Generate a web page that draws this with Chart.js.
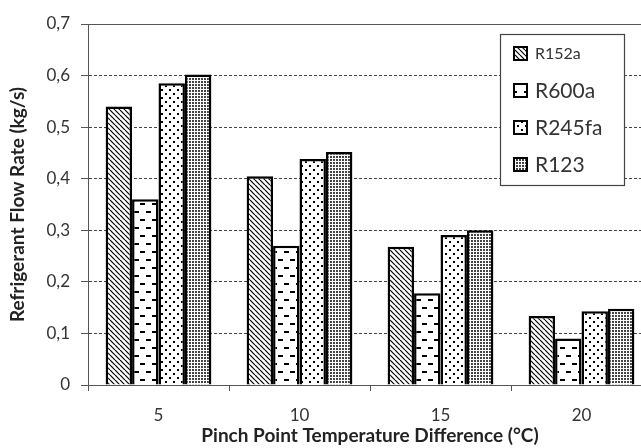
<!DOCTYPE html>
<html>
<head>
<meta charset="utf-8">
<script src="https://cdn.jsdelivr.net/npm/chart.js@4"></script>
<style>
  html, body { margin:0; padding:0; background:#fff; overflow:hidden; }
  #wrap { width:660px; height:448px; }
</style>
</head>
<body>
<div id="wrap"><canvas id="ch" width="660" height="448"></canvas></div>
<script>
// data
const PINCH = ['5', '10', '15', '20'];
const R152A = [0.54, 0.405, 0.268, 0.134];
const R600A = [0.36, 0.27, 0.178, 0.09];
const R245FA = [0.585, 0.438, 0.291, 0.143];
const R123 = [0.602, 0.452, 0.30, 0.148];
const Y_TICKS = [0, 0.1, 0.2, 0.3, 0.4, 0.5, 0.6, 0.7];

const FONT = 'Lato, "Open Sans", sans-serif';

// small tiles for the black & white fills
function tile(w, h, draw) {
  const c = document.createElement('canvas');
  c.width = w; c.height = h;
  const x = c.getContext('2d');
  x.fillStyle = '#fff'; x.fillRect(0, 0, w, h);
  draw(x);
  return document.getElementById('ch').getContext('2d').createPattern(c, 'repeat');
}
const PAT = {
  diag: tile(5, 5, x => {
    x.strokeStyle = '#000'; x.lineWidth = 1.2;
    for (let k = -5; k <= 5; k += 5) { x.beginPath(); x.moveTo(k, 0); x.lineTo(k + 5, 5); x.stroke(); }
  }),
  dash: tile(12, 16, x => {
    x.fillStyle = '#000';
    x.fillRect(2, 3, 5, 2);
    x.fillRect(8, 11, 5, 2);
    x.fillRect(-4, 11, 5, 2);
  }),
  dots: tile(8, 8, x => {
    x.fillStyle = '#000';
    x.fillRect(1, 1, 2, 2);
    x.fillRect(5, 5, 2, 2);
  }),
  fine: tile(3, 3, x => {
    x.fillStyle = '#444';
    x.fillRect(0, 0, 2, 2);
  }),
};

const SERIES = [
  { label: 'R152a', data: R152A, fill: PAT.diag, size: 16 },
  { label: 'R600a', data: R600A, fill: PAT.dash, size: 21 },
  { label: 'R245fa', data: R245FA, fill: PAT.dots, size: 21 },
  { label: 'R123', data: R123, fill: PAT.fine, size: 21 },
];

// solid frame on top + legend box inside plot
const framePlugin = {
  id: 'frame',
  afterDraw(chart) {
    const { ctx, chartArea: a } = chart;
    ctx.save();
    ctx.strokeStyle = '#555'; ctx.lineWidth = 1;
    ctx.beginPath();
    ctx.moveTo(a.left, a.top + 0.5); ctx.lineTo(a.right, a.top + 0.5);
    ctx.moveTo(a.right - 0.5, a.top); ctx.lineTo(a.right - 0.5, a.bottom);
    ctx.stroke();

    // legend
    const L = a.right - 152, T = a.top + 10, W = 124, H = 151;
    ctx.fillStyle = '#fff'; ctx.fillRect(L, T, W, H);
    ctx.strokeStyle = '#444'; ctx.lineWidth = 1.2; ctx.strokeRect(L + 0.5, T + 0.5, W, H);
    chart.data.datasets.forEach((ds, i) => {
      const cy = T + 19 + i * 37;
      ctx.fillStyle = ds.backgroundColor;
      ctx.fillRect(L + 13, cy - 7, 15, 15);
      ctx.strokeStyle = '#000'; ctx.lineWidth = 2;
      ctx.strokeRect(L + 14, cy - 6, 13, 13);
      ctx.fillStyle = '#333';
      ctx.font = SERIES[i].size + 'px ' + FONT;
      ctx.textBaseline = 'middle';
      ctx.fillText(ds.label, L + 35, cy + 1);
    });
    ctx.restore();
  }
};

new Chart(document.getElementById('ch'), {
  type: 'bar',
  data: {
    labels: PINCH,
    datasets: SERIES.map(s => ({
      label: s.label,
      data: s.data,
      backgroundColor: s.fill,
      borderColor: '#000',
      borderWidth: 2.5,
      categoryPercentage: 0.75,
      barPercentage: 1.0,
    })),
  },
  options: {
    responsive: false,
    animation: false,
    layout: { padding: { top: 24, right: 8, left: 0, bottom: 0 } },
    plugins: { legend: { display: false }, tooltip: { enabled: false } },
    scales: {
      x: {
        offset: true,
        grid: { display: true, drawOnChartArea: false, offset: true, tickLength: 6, tickColor: '#555' },
        border: { color: '#555', width: 1 },
        ticks: { color: '#333', font: { family: FONT, size: 17 }, padding: 14 },
        title: {
          display: true, text: 'Pinch Point Temperature Difference (°C)', color: '#222',
          font: { family: FONT, size: 19, weight: 'bold' }, padding: { top: 0, bottom: 1 },
        },
        afterFit(s) { s.height = 63; },
      },
      y: {
        min: 0, max: 0.7,
        afterBuildTicks(s) { s.ticks = Y_TICKS.map(v => ({ value: v })); },
        grid: { color: '#444', lineWidth: 1, tickLength: 7, tickColor: '#555' },
        border: { color: '#555', width: 1, dash: [3, 2] },
        ticks: {
          color: '#333', font: { family: FONT, size: 17 }, padding: 11,
          callback: v => v === 0 ? '0' : v.toFixed(1).replace('.', ','),
        },
        title: {
          display: true, text: 'Refrigerant Flow Rate (kg/s)', color: '#222',
          font: { family: FONT, size: 19, weight: 'bold' }, padding: { top: 6, bottom: 0 },
        },
        afterFit(s) { s.width = 88; },
      },
    },
  },
  plugins: [framePlugin],
});
</script>
</body>
</html>
